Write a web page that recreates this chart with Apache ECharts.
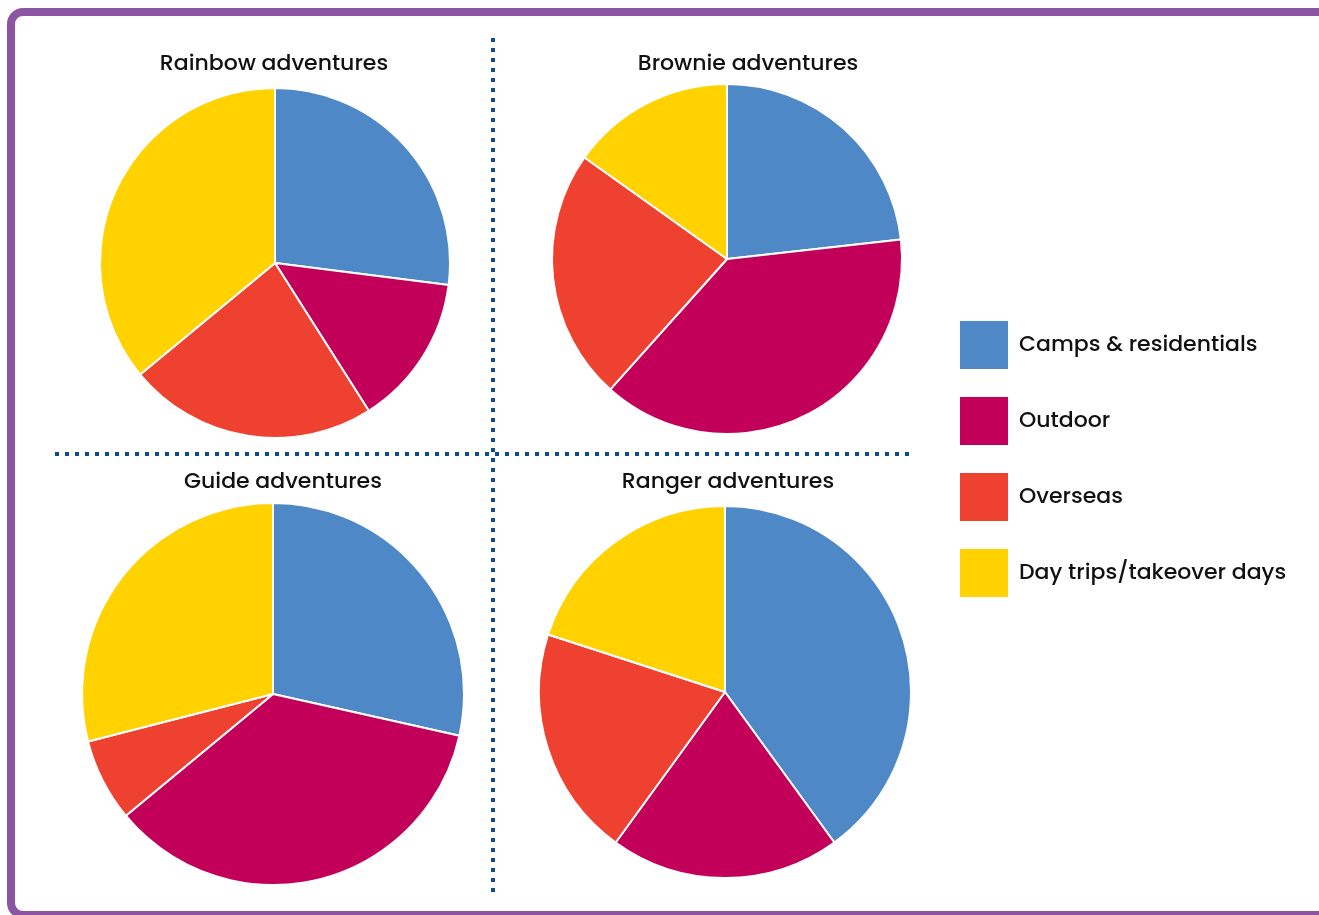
<!DOCTYPE html>
<html>
<head>
<meta charset="utf-8">
<script src="https://cdn.jsdelivr.net/npm/echarts@6/dist/echarts.min.js"></script>
<style>
  html, body { margin: 0; padding: 0; background: #fff; }
  #chart { width: 1319px; height: 915px; }
</style>
</head>
<body>
<div id="chart"></div>
<script>
  // categories and shares (percent)
  const categories = ['Camps & residentials', 'Outdoor', 'Overseas', 'Day trips/takeover days'];
  const colors = ['#4e88c7', '#c2005a', '#ef4130', '#ffd200'];
  const rainbow = [27, 14, 23, 36];
  const brownie = [23, 38, 23, 15];
  const guide = [28.5, 35.5, 7, 29];
  const ranger = [40, 20, 20, 20];

  const font = 'Poppins, "Noto Sans", sans-serif';

  function toData(values) {
    return values.map((v, i) => ({ name: categories[i], value: v }));
  }

  function pieSeries(name, values, center, radius) {
    return {
      name: name,
      type: 'pie',
      center: center,
      radius: radius,
      startAngle: 90,
      clockwise: true,
      label: { show: false },
      labelLine: { show: false },
      emphasis: { disabled: true },
      itemStyle: { borderColor: '#fff', borderWidth: 2 },
      data: toData(values)
    };
  }

  function titleAt(text, x, y) {
    return {
      text: text,
      left: x,
      top: y,
      textAlign: 'center',
      textStyle: { fontFamily: font, fontSize: 22, fontWeight: 500, color: '#111' }
    };
  }

  let myChart = echarts.init(document.getElementById('chart'));

  let option = {
    color: colors,
    animation: false,
    title: [
      titleAt('Rainbow adventures', 269, 48),
      titleAt('Brownie adventures', 743, 48),
      titleAt('Guide adventures', 278, 466),
      titleAt('Ranger adventures', 723, 466)
    ],
    legend: {
      orient: 'vertical',
      left: 953,
      top: 314,
      icon: 'rect',
      itemWidth: 50,
      itemHeight: 50,
      itemGap: 24,
      selectedMode: false,
      data: categories,
      textStyle: { fontFamily: font, fontSize: 22, fontWeight: 500, color: '#111', padding: [0, 0, 0, 5] }
    },
    graphic: [
      {
        type: 'rect',
        shape: { x: 11, y: 12, width: 1340, height: 903, r: 12 },
        style: { fill: 'none', stroke: '#8c55a3', lineWidth: 8 },
        silent: true
      },
      {
        type: 'line',
        shape: { x1: 493, y1: 38, x2: 493, y2: 894 },
        style: { stroke: '#0d4a90', lineWidth: 4, lineDash: [4, 6] },
        silent: true
      },
      {
        type: 'line',
        shape: { x1: 55, y1: 454, x2: 912, y2: 454 },
        style: { stroke: '#0d4a90', lineWidth: 4, lineDash: [4, 6] },
        silent: true
      }
    ],
    series: [
      pieSeries('Rainbow adventures', rainbow, [275, 263], 175),
      pieSeries('Brownie adventures', brownie, [727, 259], 175),
      pieSeries('Guide adventures', guide, [273, 694], 191),
      pieSeries('Ranger adventures', ranger, [725, 692], 186)
    ]
  };
  myChart.setOption(option);
</script>
</body>
</html>
